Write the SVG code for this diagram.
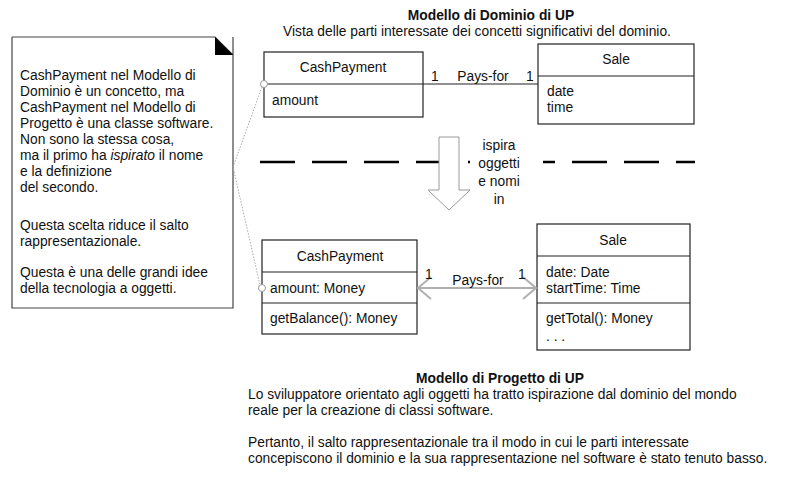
<svg xmlns="http://www.w3.org/2000/svg" width="785" height="479" viewBox="0 0 785 479">
<style>
text { font-family: "Liberation Sans", Arial, Helvetica, sans-serif; font-size: 13.8px; fill: #111; }
.b { font-weight: bold; }
.c { text-anchor: middle; }
.box { fill: #fff; stroke: #222; stroke-width: 1.2; }
.div { stroke: #222; stroke-width: 1.2; }
.assoc { stroke: #222; stroke-width: 1.2; fill: none; }
.gassoc { stroke: #b0b0b0; stroke-width: 2; fill: none; }
.dotl { stroke: #aaa; stroke-width: 1; stroke-dasharray: 1.5 1.5; fill: none; }
.knob { fill: #fff; stroke: #999; stroke-width: 1; }
</style>
<rect width="785" height="479" fill="#fff"/>

<g id="note">
  <path d="M12,37 H215 L233,55 M233,37 V308 H12 V37" fill="#fff" stroke="#444" stroke-width="1.2"/>
  <polygon points="215,37 215,55 233,55" fill="#000"/>
  <text x="20" y="80">CashPayment nel Modello di</text>
  <text x="20" y="96">Dominio è un concetto, ma</text>
  <text x="20" y="112">CashPayment nel Modello di</text>
  <text x="20" y="128">Progetto è una classe software.</text>
  <text x="20" y="144">Non sono la stessa cosa,</text>
  <text x="20" y="160">ma il primo ha <tspan font-style="italic">ispirato</tspan> il nome</text>
  <text x="20" y="176">e la definizione</text>
  <text x="20" y="192">del secondo.</text>
  <text x="20" y="230">Questa scelta riduce il salto</text>
  <text x="20" y="246">rappresentazionale.</text>
  <text x="20" y="277">Questa è una delle grandi idee</text>
  <text x="20" y="293">della tecnologia a oggetti.</text>
</g>

<g id="domain-title">
  <text class="b c" x="491" y="20">Modello di Dominio di UP</text>
  <text class="c" x="477" y="36">Vista delle parti interessate dei concetti significativi del dominio.</text>
</g>

<g id="domain-cashpayment">
  <rect class="box" x="264" y="52" width="159" height="65"/>
  <line class="div" x1="264" y1="84" x2="423" y2="84"/>
  <text class="c" x="343" y="72">CashPayment</text>
  <text x="272" y="105">amount</text>
</g>

<g id="domain-sale">
  <rect class="box" x="538" y="44" width="156" height="80"/>
  <line class="div" x1="538" y1="76" x2="694" y2="76"/>
  <text class="c" x="616" y="64">Sale</text>
  <text x="547" y="96">date</text>
  <text x="547" y="112">time</text>
</g>

<g id="separator">
  <line x1="260" y1="162" x2="695" y2="162" stroke="#000" stroke-width="2.5" stroke-dasharray="35 17"/>
  <rect x="470" y="138" width="73" height="72" fill="#fff"/>
</g>

<g id="inspire-arrow">
  <path d="M439,137 H459 V190 H470 L449,210 L428,190 H439 Z" fill="#fff" stroke="#999" stroke-width="1"/>
  <text class="c" x="499" y="150">ispira</text>
  <text class="c" x="499" y="168">oggetti</text>
  <text class="c" x="499" y="186">e nomi</text>
  <text class="c" x="499" y="204">in</text>
</g>

<g id="design-cashpayment">
  <rect class="box" x="262" y="240" width="155" height="94"/>
  <line class="div" x1="262" y1="272" x2="417" y2="272"/>
  <line class="div" x1="262" y1="303" x2="417" y2="303"/>
  <text class="c" x="340" y="261">CashPayment</text>
  <text x="270" y="293">amount: Money</text>
  <text x="270" y="323">getBalance(): Money</text>
</g>

<g id="design-sale">
  <rect class="box" x="537" y="224" width="153" height="126"/>
  <line class="div" x1="537" y1="256" x2="690" y2="256"/>
  <line class="div" x1="537" y1="303" x2="690" y2="303"/>
  <text class="c" x="613" y="245">Sale</text>
  <text x="546" y="277">date: Date</text>
  <text x="546" y="293">startTime: Time</text>
  <text x="546" y="323">getTotal(): Money</text>
  <text x="546" y="341">. . .</text>
</g>

<g id="design-title">
  <text class="b c" x="500" y="383">Modello di Progetto di UP</text>
  <text x="248" y="399">Lo sviluppatore orientato agli oggetti ha tratto ispirazione dal dominio del mondo</text>
  <text x="248" y="415">reale per la creazione di classi software.</text>
  <text x="248" y="447">Pertanto, il salto rappresentazionale tra il modo in cui le parti interessate</text>
  <text x="248" y="463">concepiscono il dominio e la sua rappresentazione nel software è stato tenuto basso.</text>
</g>

<g id="connectors">
  <line class="assoc" x1="423" y1="84" x2="538" y2="84"/>
  <text x="431" y="81">1</text>
  <text class="c" x="483" y="81">Pays-for</text>
  <text x="526" y="81">1</text>

  <line class="gassoc" x1="418" y1="288" x2="536" y2="288"/>
  <polyline class="gassoc" points="431,277 418,288 431,299"/>
  <polyline class="gassoc" points="523,277 536,288 523,299"/>
  <text x="425" y="279">1</text>
  <text class="c" x="478" y="285">Pays-for</text>
  <text x="518" y="279">1</text>

  <polyline class="dotl" points="262,87 233,167 260,285"/>
  <circle class="knob" cx="264" cy="84" r="3.5"/>
  <circle class="knob" cx="262" cy="288" r="3.5"/>
</g>
</svg>
